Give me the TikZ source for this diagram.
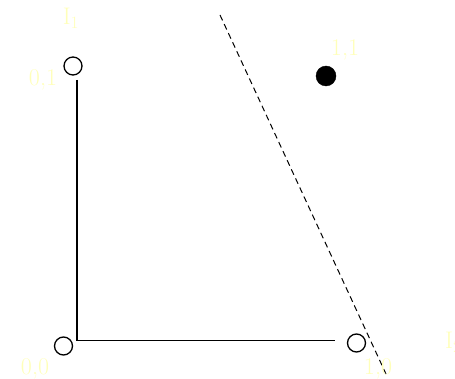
\documentclass[tikz,border=0pt]{standalone}
\usepackage{fontspec}
\usepackage{xcolor}
\definecolor{lbl}{RGB}{255,255,185}
\begin{document}
\begin{tikzpicture}[x=1pt,y=-1pt,
  pt/.style={circle,draw=black,line width=1.3pt,minimum size=18pt,inner sep=0pt},
  fpt/.style={circle,fill=black,draw=black,minimum size=20pt,inner sep=0pt},
  lab/.style={text=lbl,font=\fontsize{24}{28}\selectfont,inner sep=0pt},
  edge/.style={line width=1.3pt},
  sep/.style={line width=1pt,dash pattern=on 6pt off 4pt}]
\useasboundingbox (0,0) rectangle (455,379);
\node[pt] (p01) at (73,66) {};
\node[pt] (p00) at (63.5,346) {};
\node[pt] (p10) at (356.5,343) {};
\node[fpt] (p11) at (326,76) {};
\coordinate (vtop) at (77,80);
\coordinate (corner) at (77,340.5);
\coordinate (hend) at (335,340.5);
\draw[edge] (vtop) -- (corner) -- (hend);
\coordinate (da) at (220,15);
\coordinate (db) at (386,374);
\draw[sep] (da) -- (db);
\node[lab] (l1) at (71,18) {I$_1$};
\node[lab] (l01) at (43,80) {0,1};
\node[lab] (l11) at (345,50) {1,1};
\node[lab] (l00) at (35,369) {0,0};
\node[lab] (l10) at (378,369) {1,0};
\node[lab,anchor=west] (l2) at (445,342) {I$_2$};
\end{tikzpicture}
\end{document}
